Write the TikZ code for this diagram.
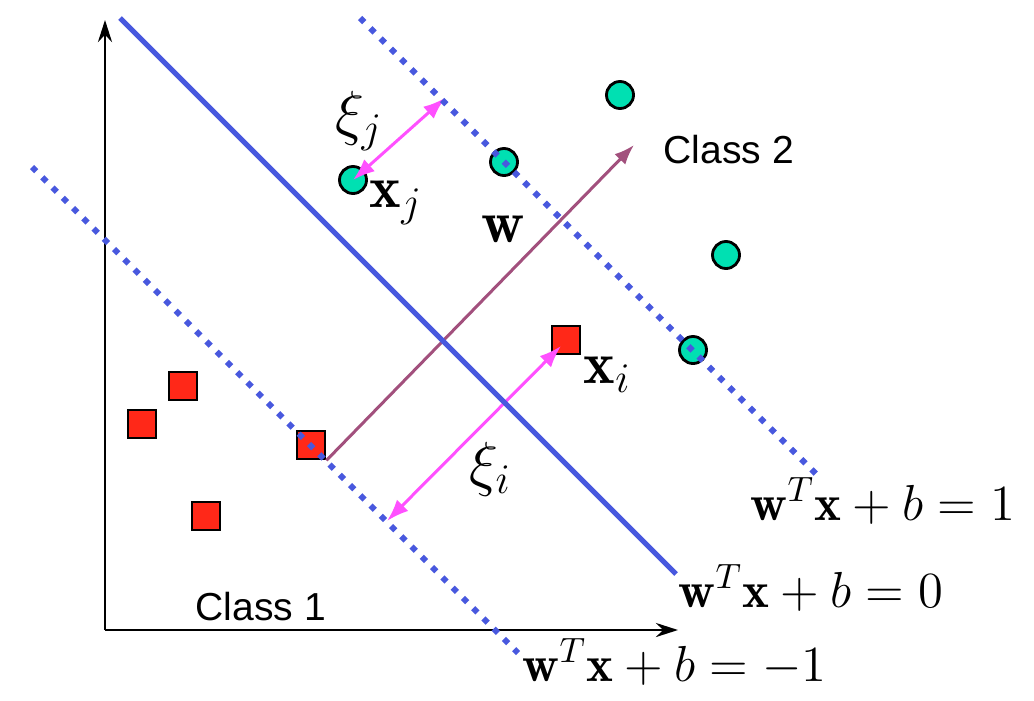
\documentclass[tikz,border=0pt]{standalone}
\usepackage{fontspec}
\setsansfont{Liberation Sans}
\usetikzlibrary{arrows.meta}
\definecolor{svmblue}{RGB}{72,88,222}
\definecolor{pointgreen}{RGB}{0,224,178}
\definecolor{pointred}{RGB}{255,40,24}
\definecolor{wpurple}{RGB}{162,80,125}
\definecolor{slackpink}{RGB}{255,80,255}
\begin{document}
\begin{tikzpicture}[x=0.01cm,y=-0.01cm,
    class1/.style={rectangle,draw,fill=pointred,minimum size=0.28cm,inner sep=0pt,line width=0.8pt},
    class2/.style={circle,draw,fill=pointgreen,minimum size=0.27cm,inner sep=0pt,line width=0.8pt},
    margin/.style={svmblue,line width=0.06cm,dash pattern=on 0.06cm off 0.085cm},
    slack/.style={slackpink,line width=0.03cm,{Latex[length=0.22cm,width=0.16cm]}-{Latex[length=0.22cm,width=0.16cm]}},
    mathlabel/.style={anchor=base west,inner sep=0pt,font=\fontsize{14.5}{17}\selectfont},
    ptlabel/.style={anchor=base west,inner sep=0pt,font=\fontsize{17}{20}\selectfont},
    classlabel/.style={anchor=base west,inner sep=0pt,font=\sffamily\fontsize{11.1}{13}\selectfont}]
  \useasboundingbox (0,0) rectangle (1034,700);
  \coordinate (origin) at (105,630);
  \coordinate (xend) at (678,630);
  \coordinate (yend) at (105,20);
  \draw[line width=0.8pt,-{Stealth[length=0.22cm,width=0.14cm]}] (origin) -- (xend);
  \draw[line width=0.8pt,-{Stealth[length=0.22cm,width=0.14cm]}] (origin) -- (yend);
  % class 1
  \node[class1] (p1) at (183,386) {};
  \node[class1] (p2) at (142,424) {};
  \node[class1] (p3) at (206,516) {};
  \node[class1] (p4) at (311,445) {};
  \node[class1] (xi) at (566,340) {};
  % class 2
  \node[class2] (q1) at (620,95) {};
  \node[class2] (q2) at (504,162) {};
  \node[class2] (q3) at (726,255) {};
  \node[class2] (q4) at (693,350) {};
  \node[class2] (xj) at (353,180) {};
  % w and slacks
  \coordinate (wtip) at (634,145);
  \coordinate (mj) at (445,98);
  \coordinate (mi) at (387,521);
  \draw[wpurple,line width=0.03cm,-{Latex[length=0.2cm,width=0.15cm]}] (p4.south east) -- (wtip);
  \draw[slack] (xj.center) -- (mj);
  \draw[slack] (mi) -- (561,346);
  % hyperplanes
  \draw[svmblue,line width=0.05cm] (120,18) -- (676,574);
  \draw[margin] (360,18) -- (818,476);
  \draw[margin] (32,167) -- (518,653);
  % labels
  \node[ptlabel] (lxij) at (335,133) {$\xi_j$};
  \node[ptlabel] (lxj) at (369,207) {$\mathbf{x}_j$};
  \node[ptlabel] (lw) at (481,242) {$\mathbf{w}$};
  \node[ptlabel] (lxi) at (583,383) {$\mathbf{x}_i$};
  \node[ptlabel] (lxii) at (469,484) {$\xi_i$};
  \node[mathlabel] (lpos) at (750,520) {$\mathbf{w}^T\mathbf{x}+b=1$};
  \node[mathlabel] (lzero) at (678,607) {$\mathbf{w}^T\mathbf{x}+b=0$};
  \node[mathlabel] (lneg) at (522,681) {$\mathbf{w}^T\mathbf{x}+b=-1$};
  \node[classlabel] (c2) at (663,163) {Class 2};
  \node[classlabel] (c1) at (195,620) {Class 1};
\end{tikzpicture}
\end{document}
